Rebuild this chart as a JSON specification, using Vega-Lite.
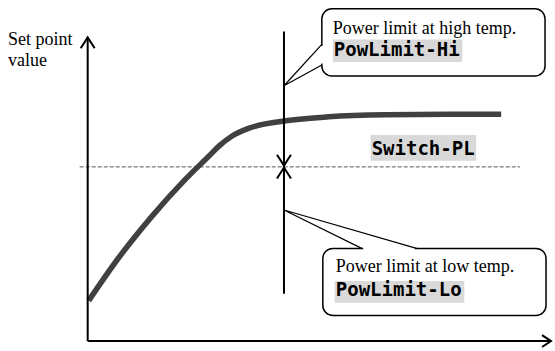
{
  "$schema": "https://vega.github.io/schema/vega-lite/v6.json",
  "width": 555,
  "height": 351,
  "padding": 0,
  "autosize": {"type": "fit", "contains": "padding"},
  "background": "white",
  "config": {"view": {"stroke": null}},
  "datasets": {
    "curve": [
      {"x": 89, "y": 305}, {"x": 118, "y": 263}, {"x": 152, "y": 220}, {"x": 185, "y": 183},
      {"x": 210, "y": 158}, {"x": 220, "y": 148}, {"x": 233, "y": 138}, {"x": 250, "y": 130},
      {"x": 283, "y": 123}, {"x": 330, "y": 118.5}, {"x": 387, "y": 116.5}, {"x": 450, "y": 116}, {"x": 503, "y": 116}
    ],
    "blackLines": [
      {"seg": "yaxis", "ord": 1, "x": 88, "y": 346}, {"seg": "yaxis", "ord": 2, "x": 88, "y": 38},
      {"seg": "yarrow", "ord": 1, "x": 81, "y": 49}, {"seg": "yarrow", "ord": 2, "x": 88, "y": 38}, {"seg": "yarrow", "ord": 3, "x": 95, "y": 49},
      {"seg": "xaxis", "ord": 1, "x": 88, "y": 346}, {"seg": "xaxis", "ord": 2, "x": 553, "y": 346},
      {"seg": "xarrow", "ord": 1, "x": 544, "y": 340}, {"seg": "xarrow", "ord": 2, "x": 553, "y": 346}, {"seg": "xarrow", "ord": 3, "x": 544, "y": 352},
      {"seg": "vline", "ord": 1, "x": 285, "y": 32}, {"seg": "vline", "ord": 2, "x": 285, "y": 298},
      {"seg": "down", "ord": 1, "x": 278, "y": 157}, {"seg": "down", "ord": 2, "x": 285, "y": 168}, {"seg": "down", "ord": 3, "x": 292, "y": 157},
      {"seg": "up", "ord": 1, "x": 278, "y": 181}, {"seg": "up", "ord": 2, "x": 285, "y": 170}, {"seg": "up", "ord": 3, "x": 292, "y": 181}
    ],
    "pointers": [
      {"seg": "p1", "ord": 1, "x": 323, "y": 45}, {"seg": "p1", "ord": 2, "x": 285, "y": 87}, {"seg": "p1", "ord": 3, "x": 323, "y": 66},
      {"seg": "p2", "ord": 1, "x": 363, "y": 252}, {"seg": "p2", "ord": 2, "x": 285, "y": 213}, {"seg": "p2", "ord": 3, "x": 418, "y": 252}
    ],
    "boxes": [
      {"x": 323, "x2": 547, "y": 9, "y2": 77},
      {"x": 324, "x2": 548, "y": 252, "y2": 320}
    ],
    "gaps": [
      {"x": 323, "x2": 323, "y": 46.5, "y2": 64.5},
      {"x": 364.5, "x2": 416.5, "y": 252, "y2": 252}
    ],
    "dashed": [{"x": 80, "x2": 522, "y": 169.3, "y2": 169.3}],
    "highlights": [
      {"x": 334, "x2": 464, "y": 40, "y2": 63},
      {"x": 372, "x2": 478, "y": 137, "y2": 163},
      {"x": 336, "x2": 466, "y": 285, "y2": 307}
    ],
    "serifText": [
      {"label": "Set point", "x": 8, "y": 46},
      {"label": "value", "x": 8, "y": 67},
      {"label": "Power limit at high temp.", "x": 334, "y": 34},
      {"label": "Power limit at low temp.", "x": 337, "y": 276}
    ],
    "monoText": [
      {"label": "PowLimit-Hi", "x": 335, "y": 57},
      {"label": "Switch-PL", "x": 373, "y": 157},
      {"label": "PowLimit-Lo", "x": 337, "y": 300}
    ]
  },
  "encoding": {
    "x": {"field": "x", "type": "quantitative", "scale": {"domain": [0, 555], "nice": false, "zero": false}, "axis": null},
    "y": {"field": "y", "type": "quantitative", "scale": {"domain": [0, 351], "nice": false, "zero": false, "reverse": true}, "axis": null}
  },
  "layer": [
    {
      "data": {"name": "dashed"},
      "mark": {"type": "rule", "color": "#555555", "strokeWidth": 1, "strokeDash": [4, 2]},
      "encoding": {"x2": {"field": "x2"}, "y2": {"field": "y2"}}
    },
    {
      "data": {"name": "curve"},
      "mark": {"type": "line", "color": "#404040", "strokeWidth": 5.5, "interpolate": "monotone", "strokeCap": "butt"},
      "encoding": {}
    },
    {
      "data": {"name": "blackLines"},
      "mark": {"type": "line", "color": "black", "strokeWidth": 2, "strokeJoin": "miter"},
      "encoding": {"detail": {"field": "seg"}, "order": {"field": "ord"}}
    },
    {
      "data": {"name": "boxes"},
      "mark": {"type": "rect", "fill": "white", "stroke": "black", "strokeWidth": 1.5, "cornerRadius": 10},
      "encoding": {"x2": {"field": "x2"}, "y2": {"field": "y2"}}
    },
    {
      "data": {"name": "gaps"},
      "mark": {"type": "rule", "color": "white", "strokeWidth": 3},
      "encoding": {"x2": {"field": "x2"}, "y2": {"field": "y2"}}
    },
    {
      "data": {"name": "pointers"},
      "mark": {"type": "line", "color": "black", "strokeWidth": 1.2},
      "encoding": {"detail": {"field": "seg"}, "order": {"field": "ord"}}
    },
    {
      "data": {"name": "highlights"},
      "mark": {"type": "rect", "fill": "#d9d9d9"},
      "encoding": {"x2": {"field": "x2"}, "y2": {"field": "y2"}}
    },
    {
      "data": {"name": "serifText"},
      "mark": {"type": "text", "font": "Liberation Serif", "fontSize": 18, "align": "left", "baseline": "alphabetic", "color": "black"},
      "encoding": {"text": {"field": "label"}}
    },
    {
      "data": {"name": "monoText"},
      "mark": {"type": "text", "font": "DejaVu Sans Mono", "fontWeight": "bold", "fontSize": 19, "align": "left", "baseline": "alphabetic", "color": "black"},
      "encoding": {"text": {"field": "label"}}
    }
  ]
}
